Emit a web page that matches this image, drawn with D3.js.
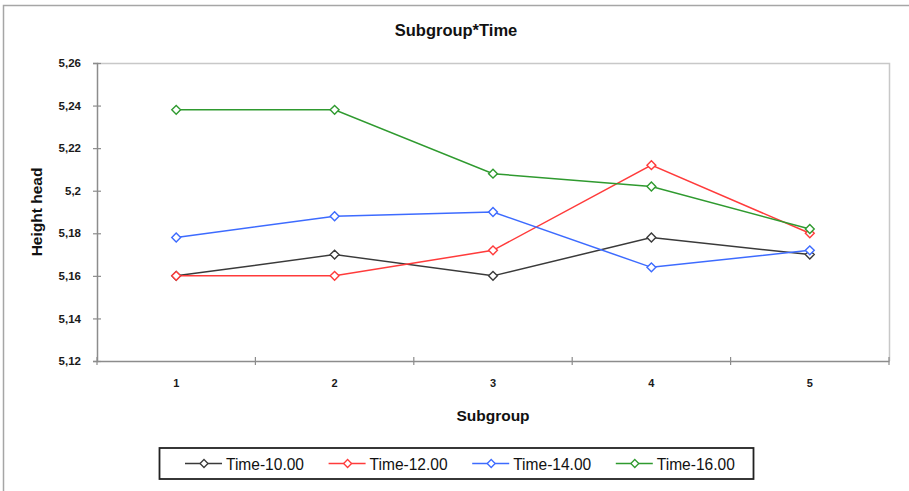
<!DOCTYPE html>
<html>
<head>
<meta charset="utf-8">
<script src="https://cdn.jsdelivr.net/npm/d3@7"></script>
<style>
  html, body { margin: 0; padding: 0; background: #fff; }
  svg { display: block; }
  text { font-family: "Liberation Sans", Arial, sans-serif; }
</style>
</head>
<body>
<svg id="chart" width="909" height="491"></svg>
<script>
// Category axis
const subgroups = [1, 2, 3, 4, 5];

// Series: mean head height per subgroup at each measuring time
const seriesNames = ["Time-10.00", "Time-12.00", "Time-14.00", "Time-16.00"];
const time1000 = [5.160, 5.170, 5.160, 5.178, 5.170];
const time1200 = [5.160, 5.160, 5.172, 5.212, 5.180];
const time1400 = [5.178, 5.188, 5.190, 5.164, 5.172];
const time1600 = [5.238, 5.238, 5.208, 5.202, 5.182];
const seriesColors = ["#3a3a3a", "#ff3b3b", "#3d6bff", "#2f9a2f"];

// Value axis ticks
const yTicks = [5.12, 5.14, 5.16, 5.18, 5.20, 5.22, 5.24, 5.26];

const series = [time1000, time1200, time1400, time1600].map((vals, i) => ({
  name: seriesNames[i],
  color: seriesColors[i],
  values: vals.map((v, j) => ({ cat: subgroups[j], v }))
}));

const svg = d3.select("#chart");
const plot = { left: 97, right: 889, top: 63, bottom: 361 };

// Outer chart frame
svg.append("rect")
  .attr("x", 3.5).attr("y", 5.5)
  .attr("width", 1000).attr("height", 1000)
  .attr("fill", "#fff")
  .attr("stroke", "#a6a6a6").attr("stroke-width", 1.5);

const x = d3.scaleBand().domain(subgroups).range([plot.left, plot.right]).padding(0);
const y = d3.scaleLinear().domain([5.12, 5.26]).range([plot.bottom, plot.top]);

// Plot area border (top and right)
svg.append("path")
  .attr("d", `M${plot.left},${plot.top + 0.5}H${plot.right + 0.5}V${plot.bottom}`)
  .attr("fill", "none").attr("stroke", "#c8c8c8").attr("stroke-width", 1.5);

const fmt = d => String(+d.toFixed(2)).replace(".", ",");

// Y axis
const yAxis = svg.append("g")
  .attr("transform", `translate(${plot.left},0)`)
  .call(d3.axisLeft(y).tickValues(yTicks).tickFormat(fmt).tickSize(4).tickPadding(12));
yAxis.select(".domain").attr("stroke", "#8c8c8c").attr("stroke-width", 1.5);
yAxis.selectAll(".tick line").attr("x1", 4).attr("x2", -4).attr("stroke", "#8c8c8c").attr("stroke-width", 1.2);
yAxis.selectAll(".tick text")
  .attr("font-size", 11.5).attr("font-weight", "bold").attr("fill", "#1a1a1a")
  .attr("font-family", "'Liberation Sans', Arial, sans-serif");

// X axis: labels at category centres, tick marks on category boundaries
const xAxis = svg.append("g")
  .attr("transform", `translate(0,${plot.bottom})`)
  .call(d3.axisBottom(x).tickSize(0).tickPadding(18));
xAxis.select(".domain").attr("stroke", "#8c8c8c").attr("stroke-width", 1.5);
xAxis.selectAll(".tick text")
  .attr("font-size", 11).attr("font-weight", "bold").attr("fill", "#1a1a1a")
  .attr("font-family", "'Liberation Sans', Arial, sans-serif");
const bounds = subgroups.map(c => x(c)).concat([x.range()[1]]);
xAxis.selectAll(".bound").data(bounds).join("line")
  .attr("class", "bound")
  .attr("x1", d => d).attr("x2", d => d)
  .attr("y1", -4).attr("y2", 4)
  .attr("stroke", "#8c8c8c").attr("stroke-width", 1.2);

// Titles
svg.append("text")
  .attr("x", 456).attr("y", 36)
  .attr("text-anchor", "middle")
  .attr("font-size", 16.5).attr("font-weight", "bold").attr("fill", "#111")
  .text("Subgroup*Time");

svg.append("text")
  .attr("x", (plot.left + plot.right) / 2).attr("y", 421)
  .attr("text-anchor", "middle")
  .attr("font-size", 15.5).attr("font-weight", "bold").attr("fill", "#111")
  .text("Subgroup");

svg.append("text")
  .attr("transform", `translate(42,${(plot.top + plot.bottom) / 2}) rotate(-90)`)
  .attr("text-anchor", "middle")
  .attr("font-size", 15.5).attr("font-weight", "bold").attr("fill", "#111")
  .text("Height head");

// Lines and diamond markers
const cx = c => x(c) + x.bandwidth() / 2;
const line = d3.line().x(d => cx(d.cat)).y(d => y(d.v));
const diamond = d3.symbol().type(d3.symbolDiamond2).size(50);

const g = svg.append("g");
series.forEach(s => {
  g.append("path")
    .attr("d", line(s.values))
    .attr("fill", "none").attr("stroke", s.color).attr("stroke-width", 1.5);
});
series.forEach(s => {
  g.selectAll(null).data(s.values).join("path")
    .attr("transform", d => `translate(${cx(d.cat)},${y(d.v)})`)
    .attr("d", diamond)
    .attr("fill", "#fff").attr("stroke", s.color).attr("stroke-width", 1.4);
});

// Legend
const legend = svg.append("g");
legend.append("rect")
  .attr("x", 159.5).attr("y", 448).attr("width", 594).attr("height", 31)
  .attr("fill", "#fff").attr("stroke", "#222").attr("stroke-width", 1.8);
const step = 143.6;
series.forEach((s, i) => {
  const lx = 185 + i * step;
  const ly = 463.5;
  const item = legend.append("g");
  item.append("line")
    .attr("x1", lx).attr("x2", lx + 37).attr("y1", ly).attr("y2", ly)
    .attr("stroke", s.color).attr("stroke-width", 1.5);
  item.append("path")
    .attr("transform", `translate(${lx + 19},${ly})`)
    .attr("d", d3.symbol().type(d3.symbolDiamond2).size(40))
    .attr("fill", "#fff").attr("stroke", s.color).attr("stroke-width", 1.3);
  item.append("text")
    .attr("x", lx + 41).attr("y", ly + 6)
    .attr("font-size", 16).attr("fill", "#111")
    .attr("textLength", 78).attr("lengthAdjust", "spacingAndGlyphs")
    .text(s.name);
});
</script>
</body>
</html>
